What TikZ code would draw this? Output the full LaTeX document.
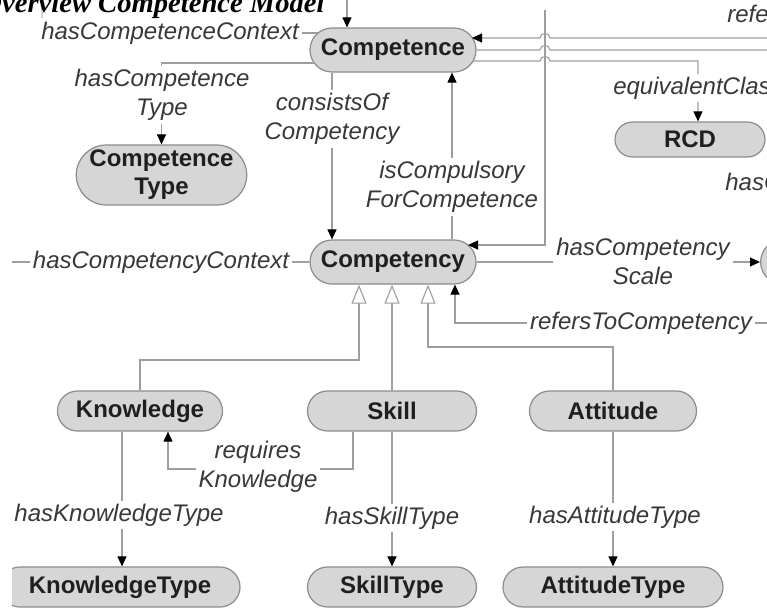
\documentclass[tikz,border=0pt]{standalone}
\usepackage{fontspec}
\setmainfont{Liberation Sans}
\newfontfamily\titlefont{Liberation Serif}
\usetikzlibrary{arrows.meta,shapes.misc}

\tikzset{
  cls/.style={rounded rectangle, draw=black!45, fill=black!16, line width=0.6pt,
    text=black!88, font=\fontsize{12}{14}\selectfont\bfseries, inner sep=0pt, align=center},
  lbl/.style={fill=white, inner sep=1.5pt, text=black!78,
    font=\fontsize{12}{14.5}\selectfont\itshape, align=center},
  ln/.style={draw=black!38, line width=0.55pt},
  arr/.style={ln, -{Triangle[length=5pt,width=4.5pt,color=black]}},
  isa/.style={ln, -{Triangle[open,length=9.5pt,width=7.5pt,fill=white]}},
}

\begin{document}
\begin{tikzpicture}[x=0.5pt,y=-0.5pt]
\useasboundingbox (0,0) rectangle (767,607);
\clip (0,0) rectangle (767,607);

% heading
\node[anchor=base east, inner sep=0pt,
      font=\titlefont\fontsize{14.3}{16}\selectfont\bfseries\itshape] (title) at (325,12.5)
      {Overview Competence Model};

\begin{scope}
\clip (12,0) rectangle (767,607);

% classes
\node[cls, minimum width=83pt,   minimum height=22pt]   (comp)  at (393,50)    {Competence};
\node[cls, minimum width=83.5pt, minimum height=30pt]   (ctype) at (161.5,175) {Competence\\Type};
\node[cls, minimum width=75pt,   minimum height=17.5pt] (rcd)   at (690,139.5) {RCD};
\node[cls, minimum width=83pt,   minimum height=22pt]   (cy)    at (393,262)   {Competency};
\node[cls, minimum width=83pt,   minimum height=22pt, anchor=west] (scale) at (760,262) {};
\node[cls, minimum width=82.5pt, minimum height=20pt]   (know)  at (140,411)   {Knowledge};
\node[cls, minimum width=84.5pt, minimum height=20pt]   (skill) at (392,411)   {Skill};
\node[cls, minimum width=83.5pt, minimum height=20pt]   (att)   at (613,411)   {Attitude};
\node[cls, minimum width=120pt,  minimum height=20pt]   (ktype) at (120,587)   {KnowledgeType};
\node[cls, minimum width=84.5pt, minimum height=20pt]   (stype) at (392,587)   {SkillType};
\node[cls, minimum width=110pt,  minimum height=20pt]   (atype) at (613,587)   {AttitudeType};

% helper points on borders and bends
\coordinate (cIn)    at (347,0);
\coordinate (ctxEnd) at (318,33);
\coordinate (ctxUp)  at (42,10);
\coordinate (ctStart) at (314,63);
\coordinate (ctBend) at (161.5,63);
\coordinate (consX)  at (332,0);
\coordinate (compX)  at (452,0);
\coordinate (vTop)   at (545,10);
\coordinate (vIn)    at (468,245);
\coordinate (rIn)    at (472,38);
\coordinate (rOut)   at (473,61);
\coordinate (rcdX)   at (698,0);
\coordinate (ccL)    at (12,262);
\coordinate (rtcR)   at (767,323);
\coordinate (rtcX)   at (455,0);
\coordinate (g1)     at (359,360);
\coordinate (g3)     at (428,347);
\coordinate (rkX)    at (353,0);
\coordinate (rkB)    at (168,469);
\coordinate (kX)     at (122,0);

% Competence
\draw[arr] (cIn) -- (cIn |- comp.north);
\node[lbl] (lCtx) at (170,33) {hasCompetenceContext};
\draw[ln] (lCtx.east) -- (ctxEnd);
\draw[ln, draw=black!18] (ctxUp) -- (ctxUp |- lCtx.north);

\draw[arr] (ctStart) -- (ctBend) -- (ctBend |- ctype.north);
\node[lbl] at (162,95) {hasCompetence\\Type};

\draw[arr] (consX |- comp.south) -- (consX |- cy.north);
\node[lbl] at (332,119) {consistsOf\\Competency};

\draw[arr] (compX |- cy.north) -- (compX |- comp.south);
\node[lbl] at (452,187) {isCompulsory\\ForCompetence};

% long vertical line entering Competency
\draw[arr] (vTop) |- (vIn);

% three lines leaving to the right, hopping over the vertical line
\draw[arr] (767,38) -- (550,38) .. controls (550,32) and (540,32) .. (540,38) -- (rIn);
\draw[ln] (comp.east) -- (540,50) .. controls (540,44) and (550,44) .. (550,50) -- (767,50);
\draw[arr] (rOut) -- (540,61) .. controls (540,55) and (550,55) .. (550,61)
  -- (rcdX |- rOut) -- (rcdX |- rcd.north);
\node[lbl] at (698,88) {equivalentClass};
\node[lbl, anchor=west] at (724,16) {refersToCompetence};
\node[lbl, anchor=west] at (722,184) {hasCompetency};

% Competency
\draw[ln] (ccL) -- (cy.west);
\node[lbl] at (161,262) {hasCompetencyContext};

\draw[arr] (cy.east) -- (scale.west);
\node[lbl] at (643,261) {hasCompetency\\Scale};

\draw[arr] (rtcR) -| (rtcX |- cy.south);
\node[lbl] at (641,323) {refersToCompetency};

% specialisations
\draw[isa] (know.north) |- (g1) -- (g1 |- cy.south);
\draw[isa] (skill.north) -- (skill.north |- cy.south);
\draw[isa] (att.north) |- (g3) -- (g3 |- cy.south);

% Skill requires Knowledge
\draw[arr] (rkX |- skill.south) |- (rkB) -- (rkB |- know.south);
\node[lbl] at (258,467) {requires\\Knowledge};

% type links
\draw[arr] (kX |- know.south) -- (kX |- ktype.north);
\node[lbl] at (119,515) {hasKnowledgeType};
\draw[arr] (skill.south) -- (stype.north);
\node[lbl] at (392,518) {hasSkillType};
\draw[arr] (att.south) -- (atype.north);
\node[lbl] at (615,517) {hasAttitudeType};
\end{scope}
\end{tikzpicture}
\end{document}
